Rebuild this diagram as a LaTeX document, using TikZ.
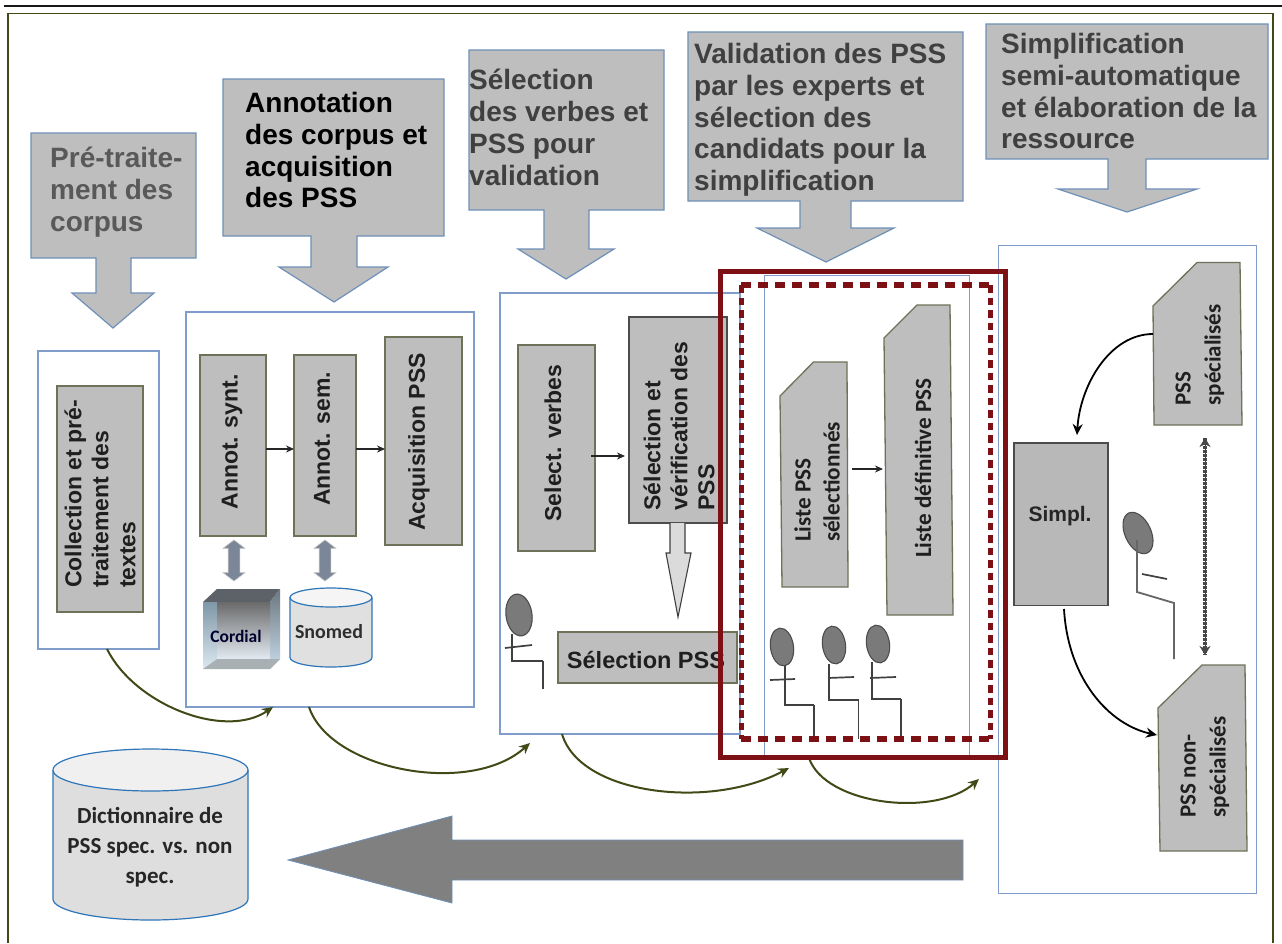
\documentclass[tikz,border=0pt]{standalone}
\usepackage{fontspec}
\setmainfont{Liberation Sans}
\newfontfamily\carl{Carlito}
\usetikzlibrary{arrows.meta,shapes.arrows,calc}
\definecolor{bfill}{HTML}{BEBEBE}
\definecolor{bedge}{HTML}{6E7258}
\definecolor{cedge}{HTML}{6F90B8}
\definecolor{pedge}{HTML}{7F9CCB}
\definecolor{rred}{HTML}{7C1014}
\definecolor{olive}{HTML}{3F4A16}
\definecolor{cyl}{HTML}{2F76B8}
\definecolor{twocol}{HTML}{7B8698}
\tikzset{
 panel/.style={draw=pedge,line width=1.4pt,fill=none,inner sep=0,outer sep=0},
 thinpanel/.style={draw=pedge,line width=1pt,fill=none,inner sep=0,outer sep=0},
 graybox/.style={draw=bedge,line width=1.3pt,fill=bfill,inner sep=0,outer sep=0},
 darkbox/.style={draw=black!70,line width=1.3pt,fill=bfill,inner sep=0,outer sep=0},
 callout/.style={draw=cedge,line width=1.2pt,fill=bfill,line join=miter},
 head/.style={anchor=north west,inner sep=0,align=left,font=\fontsize{28}{31.8}\selectfont\bfseries},
 vlab/.style={rotate=90,inner sep=0,align=left,font=\fontsize{23}{27}\selectfont\bfseries,text=black!88},
 nlab/.style={rotate=90,inner sep=0,align=left,font=\carl\fontsize{23.2}{29}\selectfont\bfseries,text=black!88},
 smallarrow/.style={draw=black!85,line width=1.4pt,-{Stealth[length=8pt,width=7pt]}},
 flow/.style={draw=olive,line width=2pt,-{Stealth[length=11pt,width=10pt]}},
 loopflow/.style={draw=black,line width=1.8pt,-{Stealth[length=11pt,width=10pt]}},
 chairline/.style={draw=black!75,line width=1.7pt},
 headball/.style={draw=black!70,line width=1.1pt,fill=black!52},
 twoway/.style={double arrow,rotate=90,minimum height=41pt,minimum width=21pt,double arrow head extend=5pt,double arrow tip angle=105,inner sep=0,draw=black!25,fill=twocol,line width=.6pt},
 cylline/.style={draw=cyl,line width=1.2pt,fill=black!12},
}
% \rectnode[style]{name}{x1}{y1}{x2}{y2}
\newcommand{\rectnode}[6][panel]{%
 \pgfmathsetmacro\rcx{(#3+#5)/2}\pgfmathsetmacro\rcy{(#4+#6)/2}%
 \pgfmathsetmacro\rw{#5-#3}\pgfmathsetmacro\rh{#6-#4}%
 \node[#1,rectangle,minimum width=\rw pt,minimum height=\rh pt] (#2) at (\rcx,\rcy) {};}
\newcommand{\downcall}[9]{\def\dca{#1}\def\dcb{#2}\def\dcc{#3}\def\dcd{#4}\def\dce{#5}\def\dcf{#6}\def\dcg{#7}\def\dch{#8}\def\dci{#9}\downcallb}
\newcommand{\downcallb}[2]{\draw[callout] (\dca,\dcb) -- (\dcc,\dcb) -- (\dcc,\dcd) -- (\dcf,\dcd) -- (\dcf,\dcg) -- (\dci,\dcg) -- (#1,#2) -- (\dch,\dcg) -- (\dce,\dcg) -- (\dce,\dcd) -- (\dca,\dcd) -- cycle;}
\newcommand{\person}[9]{% headx heady rx ry tilt neckx necktop seatx seaty
 \draw[headball,rotate around={#5:(#1,#2)}] (#1,#2) ellipse (#3 and #4);
 \draw[chairline] (#6,#7) -- (#6,#9) -- (#8,#9);}
\begin{document}
\begin{tikzpicture}[x=1pt,y=-1pt]
\useasboundingbox (0,0) rectangle (1282,943);
\fill[white] (0,0) rectangle (1282,943);
% frame
\draw[black!90,line width=1.3pt] (4,6) -- (1282,6);
\draw[olive,line width=1.2pt] (8,943) -- (8,13.5) -- (1273,13.5) -- (1273,943);
% callouts
\downcall{31}{133}{196}{258}{96}{131}{293}{72}{154}{113}{328}
\downcall{223}{79}{444}{236}{311}{357}{267}{279}{388}{334}{302}
\downcall{469}{50}{664}{210}{544}{589}{249}{518}{614}{566}{279}
\downcall{688}{32}{963}{201}{800}{851}{228}{757}{894}{826}{262}
\downcall{986}{24}{1268}{159}{1108}{1146}{189}{1058}{1197}{1127}{212}
\node[head,text=black!65] (h1) at (50,147) {Pré-traite-\\ment des\\corpus};
\node[head,text=black] (h2) at (245,92) {Annotation\\des corpus et\\acquisition\\des PSS};
\node[head,text=black!75] (h3) at (469,69) {Sélection\\des verbes et\\PSS pour\\validation};
\node[head,text=black!75] (h4) at (694,43) {Validation des PSS\\par les experts et\\sélection des\\candidats pour la\\simplification};
\node[head,text=black!75] (h5) at (1001,33) {Simplification\\semi-automatique\\et élaboration de la\\ressource};
% panels
\rectnode{p1}{38}{351}{159}{649}
\rectnode{p2}{186}{312}{474}{707}
\rectnode{p3}{500}{293}{740}{734}
\rectnode[thinpanel]{p4}{764}{275}{969}{755}
\rectnode[thinpanel]{p5}{998}{245}{1256}{893}
% panel 1
\rectnode[graybox]{collect}{57}{386}{143}{612}
\node[vlab] (collectt) at (100,494) {Collection et pré-\\traitement des\\textes};
% panel 2
\rectnode[graybox]{synt}{200}{355}{266}{536}
\rectnode[graybox]{sem}{294}{355}{356}{536}
\rectnode[graybox]{acq}{385}{337}{462}{545}
\node[vlab] (syntt) at (232,442) {Annot. synt.};
\node[vlab] (semt) at (322,439) {Annot. sem.};
\node[vlab] (acqt) at (419,442) {Acquisition PSS};
\coordinate (arrowrow) at (0,449);
\draw[smallarrow] (synt.east |- arrowrow) -- (sem.west |- arrowrow);
\draw[smallarrow] (sem.east |- arrowrow) -- (acq.west |- arrowrow);
\node[twoway] (tw1) at (234,560.5) {\rule{0pt}{11pt}};
\node[twoway] (tw2) at (325,560.5) {\rule{0pt}{11pt}};
% Cordial cube
\definecolor{cubea}{HTML}{5C6268}\definecolor{cubeb}{HTML}{7F97A8}\definecolor{cubec}{HTML}{DCE8F0}
\definecolor{cubed}{HTML}{6B7780}\definecolor{cubee}{HTML}{C8DCEA}\definecolor{cubef}{HTML}{6A6A6A}
\definecolor{cubeg}{HTML}{E2EAF2}\definecolor{cubeh}{HTML}{A8B0B4}
\fill[cubea] (203,602) -- (217,589) -- (280,589) -- (270,602) -- cycle;
\shade[top color=cubeb,bottom color=cubec] (203,602) -- (217,602) -- (217,659) -- (203,669) -- cycle;
\shade[top color=cubed,bottom color=cubee] (270,602) -- (280,589) -- (280,659) -- (270,669) -- cycle;
\shade[top color=cubef,bottom color=cubeg] (217,602) rectangle (270,659);
\fill[cubeh] (203,669) -- (217,659) -- (280,659) -- (270,669) -- cycle;
\node[inner sep=0,font=\carl\fontsize{17.5}{20}\selectfont\bfseries,text=black!82!blue] (cordial) at (236,636) {Cordial};
% Snomed cylinder
\draw[cylline] (290,597.5) -- (290,657.5) arc[start angle=180,end angle=0,x radius=41,y radius=9.5] -- (372,597.5);
\draw[cylline,fill=black!4] (331,597.5) ellipse (41 and 9.5);
\node[inner sep=0,font=\carl\fontsize{20}{22}\selectfont\bfseries,text=black!82] (snomed) at (329,632) {Snomed};
% panel 3
\rectnode[graybox]{verbes}{518}{345}{595}{551}
\node[vlab] (verbest) at (553,443) {Select. verbes};
\rectnode[darkbox]{verif}{629}{317}{727}{523}
\node[vlab] (veriff) at (679,426) {Sélection et\\vérification des\\PSS};
\coordinate (arr3) at (0,456);
\draw[smallarrow] ([xshift=-4pt]verbes.east |- arr3) -- ([xshift=-4pt]verif.west |- arr3);
\draw[draw=black!75,fill=black!14,line width=1.1pt] (670,523) -- (670,553) -- (666,553) -- (678,617) -- (691,553) -- (685,553) -- (685,523);
\rectnode[graybox]{selpss}{558}{632}{737}{683}
\node[inner sep=0,font=\fontsize{23.5}{26}\selectfont\bfseries,text=black!88] (selpsst) at (646,660) {Sélection PSS};
\person{519}{615}{13}{21}{8}{512}{634}{543}{661}
\draw[chairline] (543,661) -- (543,689);
\draw[chairline] (505,648) -- (532,645);
% panel 4
\draw[graybox] (782,587) -- (848,587) -- (847,362) -- (813.5,362) -- (780,396) -- cycle;
\draw[graybox] (887,615) -- (953,615) -- (950,305) -- (917,305) -- (884,338) -- cycle;
\node[nlab] (l1) at (817,482) {Liste PSS\\sélectionnés};
\node[nlab] (l2) at (923,468) {Liste définitive PSS};
\coordinate (l1e) at (852,469);
\coordinate (l2w) at (883,469);
\draw[smallarrow] (l1e) -- (l2w);
\person{782}{647}{11.5}{19}{8}{785}{666}{814}{705}
\draw[chairline] (814,705) -- (814,739);
\draw[chairline] (770,680) -- (795,679);
\person{834}{645}{11.5}{19}{8}{829}{664}{858.5}{700}
\draw[chairline] (858.5,700) -- (858.5,739);
\draw[chairline] (828,678) -- (854,677);
\person{878}{644}{11.5}{19}{8}{872}{662}{901}{699}
\draw[chairline] (901,699) -- (901,739);
\draw[chairline] (870,678) -- (896,677);
% panel 5
\draw[graybox] (1154,425) -- (1242,425) -- (1240,262.5) -- (1197,262.5) -- (1153,306) -- cycle;
\draw[graybox] (1160,851) -- (1247,851) -- (1245,665) -- (1202,665) -- (1158,708) -- cycle;
\rectnode[darkbox,fill=black!28]{simpl}{1014}{443}{1108}{605.5}
\node[inner sep=0,font=\fontsize{21}{24}\selectfont\bfseries,text=black!85] (simplt) at (1060,516) {Simpl.};
\node[nlab,font=\carl\fontsize{23}{30}\selectfont\bfseries] (psssp) at (1200,355) {PSS\\spécialisés};
\node[nlab,font=\carl\fontsize{23}{30}\selectfont\bfseries] (pssno) at (1205,767) {PSS non-\\spécialisés};
\coordinate (spw) at (1153,334);
\coordinate (simn) at (1077,435);
\coordinate (sims) at (1064,609);
\coordinate (now) at (1157,735);
\draw[loopflow] (spw) .. controls (1110,334) and (1080,385) .. (simn);
\draw[loopflow] (sims) .. controls (1068,680) and (1110,725) .. (now);
\coordinate (dotn) at (1205,438);
\coordinate (dots) at (1205,655);
\draw[draw=black!72,line width=3.6pt,dash pattern=on 2.5pt off 1.5pt] (dotn) -- (dots);
\draw[draw=black!72,line width=.5pt,{Stealth[length=9pt,width=11pt]}-{Stealth[length=9pt,width=11pt]}] (dotn) -- (dots);
\draw[headball,rotate around={25:(1138,533)}] (1138,533) ellipse (13 and 22);
\draw[chairline,black!60,line width=1.8pt] (1137,540) -- (1137,592) -- (1174,603) -- (1174,659);
\draw[chairline] (1142,574) -- (1167,579);
% flow curves
\coordinate (e1) at (273,707);
\coordinate (e2) at (530,743);
\coordinate (e3) at (789,768);
\coordinate (e4) at (979,779);
\draw[flow] ([xshift=8.5pt]p1.south) .. controls (135,705) and (225,740) .. (e1);
\draw[flow] ([xshift=-21pt]p2.south) .. controls (330,770) and (470,797) .. (e2);
\draw[flow] ([xshift=-58pt]p3.south) .. controls (580,795) and (710,810) .. (e3);
\draw[flow] ([xshift=-57.5pt]$(p4.south)+(0,3)$) .. controls (825,805) and (935,818) .. (e4);
% red frames
\draw[rred,line width=5pt] (720,271) rectangle (1005,757);
\draw[rred,line width=6pt,dash pattern=on 10pt off 7pt] (741,285) -- (990,285);
\draw[rred,line width=6pt,dash pattern=on 10pt off 7pt] (741,739) -- (990,739);
\draw[rred,line width=5pt,dash pattern=on 7.5pt off 5pt] (741,285) -- (741,739);
\draw[rred,line width=5pt,dash pattern=on 7.5pt off 5pt] (990,285) -- (990,739);
% dictionary
\draw[cylline,fill=black!13] (53,770) -- (53,899) arc[start angle=180,end angle=0,x radius=97.5,y radius=21] -- (248,770);
\draw[cylline,fill=black!6] (150.5,770) ellipse (97.5 and 21);
\node[inner sep=0,align=center,font=\carl\fontsize{23}{30}\selectfont\bfseries,text=black!85] (dict) at (150,847) {Dictionnaire de\\PSS spec. vs. non\\spec.};
% big arrow
\draw[draw=cedge,fill=black!50,line width=.8pt] (963,840) -- (452,840) -- (452,816) -- (288,860) -- (452,903) -- (452,880) -- (963,880) -- cycle;
\end{tikzpicture}
\end{document}
